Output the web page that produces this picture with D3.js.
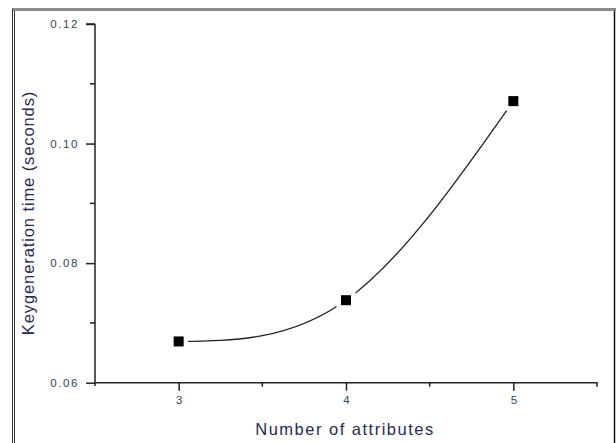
<!DOCTYPE html>
<html><head><meta charset="utf-8">
<script src="https://cdn.jsdelivr.net/npm/d3@7"></script>
<style>
html,body{margin:0;padding:0;background:#fff;}
svg{display:block;font-family:"Liberation Sans",Arial,sans-serif;}
</style></head>
<body>
<svg id="chart" width="616" height="443"></svg>
<script>
const attributes = [3, 4, 5];
const keygenTime = [0.0669, 0.0738, 0.1071];
const xTickValues = [3, 4, 5];
const yTickValues = [0.06, 0.08, 0.10, 0.12];
const xLabel = "Number of attributes";
const yLabel = "Keygeneration time (seconds)";

const svg = d3.select("#chart");
const x = d3.scaleLinear().domain([2.5, 5.5]).range([95, 597]);
const y = d3.scaleLinear().domain([0.06, 0.12]).range([382.7, 24]);

// outer frame
svg.append("line").attr("x1", 12).attr("x2", 616).attr("y1", 9.5).attr("y2", 9.5).attr("stroke", "#8a8a8a").attr("stroke-width", 3);
svg.append("line").attr("x1", 12.5).attr("x2", 12.5).attr("y1", 9).attr("y2", 443).attr("stroke", "#333").attr("stroke-width", 1);
svg.append("line").attr("x1", 14.5).attr("x2", 14.5).attr("y1", 11).attr("y2", 443).attr("stroke", "#333").attr("stroke-width", 1);
svg.append("line").attr("x1", 614.5).attr("x2", 614.5).attr("y1", 11).attr("y2", 443).attr("stroke", "#111").attr("stroke-width", 1.5);

// Y axis
const yAxis = d3.axisLeft(y).tickValues(yTickValues).tickFormat(d3.format(".2f")).tickSize(9).tickPadding(7);
const gy = svg.append("g").attr("transform", "translate(95,0)").call(yAxis);
gy.select(".domain").attr("d", `M0,${y(0.12)}H-9M0,${y(0.12)}V386`).attr("stroke", "#222").attr("stroke-width", 1.5);
gy.selectAll(".tick line").attr("stroke", "#222").attr("stroke-width", 1.5);
gy.selectAll(".tick text").attr("font-size", 11.5).attr("letter-spacing", "1.6px").attr("fill", "#34455a").attr("font-family", "Liberation Sans, Arial, sans-serif");
const yMinor = [0.07, 0.09, 0.11];
gy.selectAll(".minor").data(yMinor).enter().append("line")
  .attr("x1", -5).attr("x2", 0).attr("y1", d => y(d)).attr("y2", d => y(d))
  .attr("stroke", "#222").attr("stroke-width", 1.5);

// X axis
const xAxis = d3.axisBottom(x).tickValues(xTickValues).tickFormat(d3.format("d")).tickSize(8).tickPadding(5);
const gx = svg.append("g").attr("transform", `translate(0,${y(0.06)})`).call(xAxis);
gx.select(".domain").attr("d", `M95,0H597V4`).attr("stroke", "#222").attr("stroke-width", 1.5);
gx.selectAll(".tick line").attr("stroke", "#222").attr("stroke-width", 1.5);
gx.selectAll(".tick text").attr("font-size", 11.5).attr("fill", "#34455a").attr("font-family", "Liberation Sans, Arial, sans-serif");
const xMinor = [3.5, 4.5];
gx.selectAll(".minor").data(xMinor).enter().append("line")
  .attr("x1", d => x(d)).attr("x2", d => x(d)).attr("y1", 0).attr("y2", 4)
  .attr("stroke", "#222").attr("stroke-width", 1.5);

// labels
svg.append("text").attr("x", 345).attr("y", 435).attr("text-anchor", "middle")
  .attr("font-size", 16.5).attr("letter-spacing", "1.5px").attr("fill", "#2a2a50").text(xLabel);
svg.append("text").attr("transform", "translate(34,213) rotate(-90)").attr("text-anchor", "middle")
  .attr("font-size", 16.5).attr("letter-spacing", "0.9px").attr("fill", "#2a2a50").text(yLabel);

// data
const pts = attributes.map((a, i) => [a, keygenTime[i]]);
const line = d3.line().x(d => x(d[0])).y(d => y(d[1])).curve(d3.curveNatural);
svg.append("path").attr("d", line(pts)).attr("fill", "none").attr("stroke", "#222").attr("stroke-width", 1.3);

const mk = svg.append("g");
mk.selectAll(".halo").data(pts).enter().append("rect")
  .attr("x", d => x(d[0]) - 9.5).attr("y", d => y(d[1]) - 9.5).attr("width", 19).attr("height", 19).attr("fill", "#fff");
mk.selectAll(".pt").data(pts).enter().append("rect")
  .attr("x", d => x(d[0]) - 5).attr("y", d => y(d[1]) - 5).attr("width", 10).attr("height", 10).attr("fill", "#000");
</script>
</body></html>
